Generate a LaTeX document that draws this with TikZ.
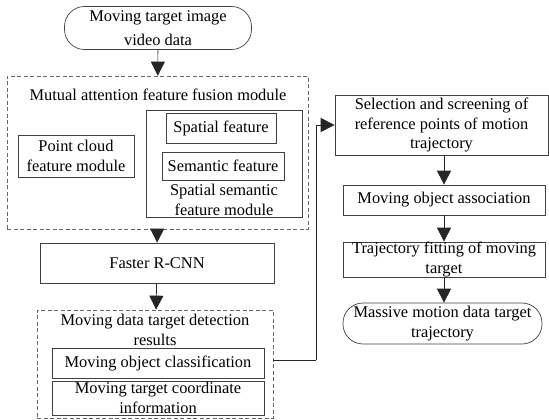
\documentclass[tikz,border=0pt]{standalone}
\usepackage{fontspec}
\setmainfont{Liberation Serif}
\usetikzlibrary{arrows.meta}

\begin{document}
\begin{tikzpicture}[x=1pt,y=-1pt]
\tikzset{
  txt/.style={align=center,inner sep=0pt,font=\fontsize{16.4}{19.5}\selectfont},
  procbox/.style={txt,draw=black!75,line width=0.7pt,rectangle},
  termbox/.style={txt,draw=black!75,line width=0.7pt,rectangle,rounded corners=20pt},
  groupbox/.style={draw=black!60,line width=0.7pt,dashed,dash pattern=on 4pt off 2.5pt,inner sep=0pt},
  flow/.style={-{Triangle[length=14pt,width=14pt]},line width=0.7pt,draw=black!85}
}
\useasboundingbox (0,0) rectangle (549,420);
% left column
\node[termbox,minimum width=187pt,minimum height=43pt] (n_video) at (158,28) {Moving target image\\[5pt]video data};
\node[groupbox,minimum width=301pt,minimum height=153pt] (n_fusion) at (157.5,152.5) {};
\node[txt] (n_fusiontitle) at (158,95) {Mutual attention feature fusion module};
\node[procbox,minimum width=116pt,minimum height=42pt] (n_cloud) at (76,156) {Point cloud\\feature module};
\node[procbox,minimum width=156pt,minimum height=107pt] (n_spsem) at (224,163.5) {};
\node[procbox,minimum width=110pt,minimum height=30pt] (n_spatial) at (221,128) {Spatial feature};
\node[procbox,minimum width=122pt,minimum height=28pt] (n_semantic) at (223,166) {Semantic feature};
\node[txt] (n_spsemtitle) at (224,200) {Spatial semantic\\feature module};
\node[procbox,minimum width=234pt,minimum height=40pt] (n_rcnn) at (157,263) {Faster R-CNN};
\node[groupbox,minimum width=236pt,minimum height=108pt] (n_detect) at (155,364) {};
\node[txt] (n_detecttitle) at (155,330) {Moving data target detection\\results};
\node[procbox,minimum width=212pt,minimum height=30pt] (n_class) at (158,363) {Moving object classification};
\node[procbox,minimum width=212pt,minimum height=34pt] (n_coord) at (158,398) {Moving target coordinate\\information};
% right column
\node[procbox,minimum width=213pt,minimum height=60pt] (n_select) at (441.5,125) {Selection and screening of\\reference points of motion\\trajectory};
\node[procbox,minimum width=202pt,minimum height=30pt] (n_assoc) at (444,200) {Moving object association};
\node[procbox,minimum width=202pt,minimum height=35pt] (n_fit) at (444,259.5) {Trajectory fitting of moving\\target};
\node[termbox,minimum width=199pt,minimum height=41pt] (n_massive) at (442.5,323.5) {Massive motion data target\\trajectory};
\coordinate (c_turn) at (316,360);
\draw[flow] (n_video) -- (n_fusion);
\draw[flow] (n_fusion) -- (n_rcnn);
\draw[flow] (n_rcnn) -- (n_detect);
\draw[line width=0.7pt,draw=black!85] (n_detect.east |- c_turn) -- (c_turn);
\draw[flow] (c_turn) |- (n_select.west);
\draw[flow] (n_select.south -| n_assoc) -- (n_assoc);
\draw[flow] (n_assoc) -- (n_fit);
\draw[flow] (n_fit) -- (n_massive.north -| n_fit);
\end{tikzpicture}
\end{document}
